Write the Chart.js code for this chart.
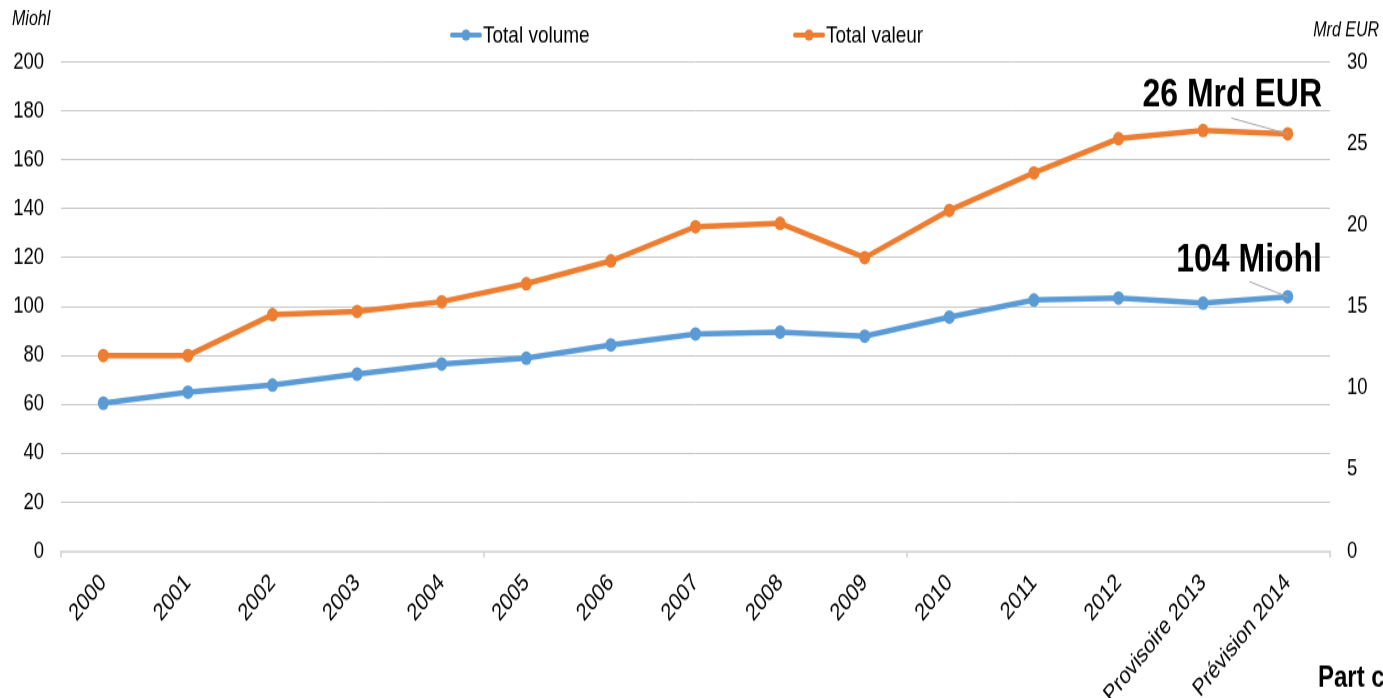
<!DOCTYPE html>
<html>
<head>
<meta charset="utf-8">
<script src="https://cdn.jsdelivr.net/npm/chart.js@4.4.1/dist/chart.umd.min.js"></script>
<style>
  html, body { margin: 0; padding: 0; background: #fff; }
  body { width: 1383px; height: 698px; }
  /* l'original est étiré verticalement : on dessine à 1383x558 puis on étire */
  #wrap { width: 1383px; height: 558px; transform: scale(1, 1.2509); transform-origin: 0 0; }
</style>
</head>
<body>
<div id="wrap"><canvas id="vinChart" width="1383" height="558"></canvas></div>
<script>
// catégories et séries
const annees = ['2000', '2001', '2002', '2003', '2004', '2005', '2006', '2007', '2008', '2009',
                '2010', '2011', '2012', 'Provisoire 2013', 'Prévision 2014'];
const totalVolume = [60.5, 65.0, 67.9, 72.4, 76.5, 78.9, 84.3, 88.8, 89.6, 87.9, 95.7, 102.7, 103.5, 101.4, 104.0];
const totalValeur = [12.0, 12.0, 14.5, 14.7, 15.3, 16.4, 17.8, 19.9, 20.1, 18.0, 20.9, 23.2, 25.3, 25.8, 25.6];

// axes
const axeMiohl = { min: 0, max: 200, step: 20, titre: 'Miohl' };
const axeMrd = { min: 0, max: 30, step: 5, titre: 'Mrd EUR' };

// étiquettes finales
const etiquetteVolume = '104 Miohl';
const etiquetteValeur = '26 Mrd EUR';

const bleu = '#5b9bd5';
const orange = '#ed7d31';
const police = "'Liberation Sans', Arial, sans-serif";

// textes hors zone de tracé, légende et étiquettes
const decor = {
  id: 'decor',
  afterDraw(chart) {
    const ctx = chart.ctx;
    const area = chart.chartArea;
    ctx.save();

    // titres des axes
    ctx.fillStyle = '#000';
    ctx.font = 'italic 16px ' + police;
    ctx.textBaseline = 'alphabetic';
    ctx.textAlign = 'left';
    ctx.fillText(axeMiohl.titre, 12, 20);
    ctx.textAlign = 'right';
    ctx.fillText(axeMrd.titre, 1379, 29);

    // légende
    const items = [
      { x: 450, label: chart.data.datasets[0].label, color: bleu },
      { x: 793, label: chart.data.datasets[1].label, color: orange }
    ];
    items.forEach(it => {
      ctx.strokeStyle = it.color;
      ctx.lineWidth = 4;
      ctx.lineCap = 'round';
      ctx.beginPath();
      ctx.moveTo(it.x + 2, 28);
      ctx.lineTo(it.x + 30, 28);
      ctx.stroke();
      ctx.fillStyle = it.color;
      ctx.beginPath();
      ctx.arc(it.x + 16, 28, 4.5, 0, Math.PI * 2);
      ctx.fill();
      ctx.fillStyle = '#000';
      ctx.font = '19px ' + police;
      ctx.textAlign = 'left';
      ctx.textBaseline = 'middle';
      ctx.fillText(it.label, it.x + 33, 29);
    });

    // étiquettes des derniers points
    const last = annees.length - 1;
    const pVol = chart.getDatasetMeta(0).data[last];
    const pVal = chart.getDatasetMeta(1).data[last];
    ctx.strokeStyle = '#a6a6a6';
    ctx.lineWidth = 1;
    ctx.beginPath();
    ctx.moveTo(pVal.x - 56, pVal.y - 12.5);
    ctx.lineTo(pVal.x, pVal.y);
    ctx.moveTo(pVol.x - 38, pVol.y - 12);
    ctx.lineTo(pVol.x, pVol.y);
    ctx.stroke();

    ctx.fillStyle = '#000';
    ctx.font = 'bold 32px ' + police;
    ctx.textAlign = 'right';
    ctx.textBaseline = 'alphabetic';
    ctx.fillText(etiquetteValeur, area.right - 8, pVal.y - 21.5);
    ctx.fillText(etiquetteVolume, area.right - 8, pVol.y - 20);

    // texte coupé en bas à droite
    ctx.font = 'bold 24px ' + police;
    ctx.textAlign = 'left';
    ctx.fillText('Part c', 1318, 549);
    ctx.restore();
  }
};

new Chart(document.getElementById('vinChart'), {
  type: 'line',
  data: {
    labels: annees,
    datasets: [
      {
        label: 'Total volume',
        data: totalVolume,
        yAxisID: 'y',
        borderColor: bleu,
        backgroundColor: bleu,
        borderWidth: 4.5,
        pointRadius: 5.5,
        pointBorderWidth: 0,
        pointBackgroundColor: bleu,
        tension: 0
      },
      {
        label: 'Total valeur',
        data: totalValeur,
        yAxisID: 'y1',
        borderColor: orange,
        backgroundColor: orange,
        borderWidth: 4.5,
        pointRadius: 5.5,
        pointBorderWidth: 0,
        pointBackgroundColor: orange,
        tension: 0
      }
    ]
  },
  options: {
    responsive: false,
    animation: false,
    layout: { padding: { top: 49.6, left: 0, right: 0, bottom: 0 } },
    plugins: {
      legend: { display: false },
      tooltip: { enabled: false }
    },
    scales: {
      x: {
        offset: true,
        grid: {
          offset: true,
          drawOnChartArea: false,
          drawTicks: true,
          tickLength: 5,
          lineWidth: 2,
          color: c => (c.index === undefined || c.index % 5 === 0) ? '#d9d9d9' : 'rgba(0,0,0,0)'
        },
        border: { display: true, color: '#d9d9d9', width: 2 },
        ticks: {
          color: '#000',
          font: { family: police, size: 19.5 },
          maxRotation: 45,
          minRotation: 45,
          autoSkip: false,
          padding: 9
        },
        afterFit(scale) { scale.height = 117.5; }
      },
      y: {
        position: 'left',
        min: axeMiohl.min,
        max: axeMiohl.max,
        ticks: {
          stepSize: axeMiohl.step,
          color: '#000',
          font: { family: police, size: 18.5 },
          padding: 17
        },
        grid: {
          drawTicks: false,
          color: c => c.tick.value === 0 ? 'rgba(0,0,0,0)' : '#c6c6c6'
        },
        border: { display: false },
        afterFit(scale) { scale.width = 61; }
      },
      y1: {
        position: 'right',
        min: axeMrd.min,
        max: axeMrd.max,
        ticks: {
          stepSize: axeMrd.step,
          color: '#000',
          font: { family: police, size: 18.5 },
          padding: 17
        },
        grid: { drawOnChartArea: false, drawTicks: false },
        border: { display: false },
        afterFit(scale) { scale.width = 53; }
      }
    }
  },
  plugins: [decor]
});
</script>
</body>
</html>
